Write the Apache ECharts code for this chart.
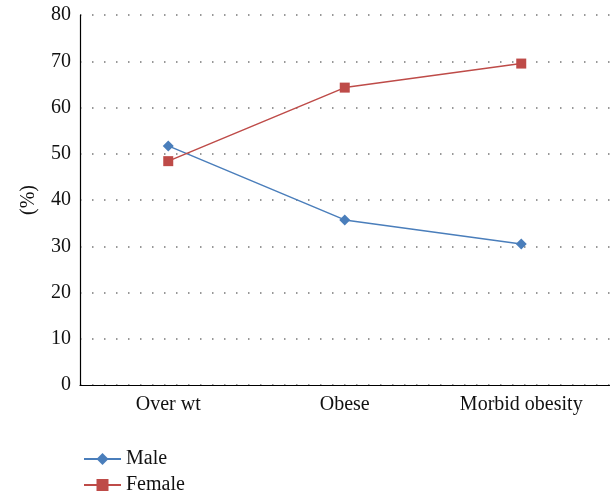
<!DOCTYPE html>
<html><head><meta charset="utf-8">
<script src="https://cdn.jsdelivr.net/npm/echarts@6/dist/echarts.min.js"></script>
<style>html,body{margin:0;padding:0;background:#fff}#c{width:613px;height:494px}</style>
</head><body><div id="c"></div>
<script>
const categories = ['Over wt', 'Obese', 'Morbid obesity'];
const maleValues = [51.7, 35.7, 30.5];
const femaleValues = [48.4, 64.3, 69.5];
const yTicks = [0, 10, 20, 30, 40, 50, 60, 70, 80];

const font = '"Liberation Serif", "DejaVu Serif", serif';
const legendText = { fontFamily: font, fontSize: 20, color: '#111' };
const chart = echarts.init(document.getElementById('c'));
chart.setOption({
  animation: false,
  backgroundColor: '#fff',
  textStyle: { fontFamily: font },
  grid: { left: 80, right: 3.5, top: 15, bottom: 109, containLabel: false },
  legend: [
    { orient: 'horizontal', left: 78, top: 444, itemWidth: 37, itemHeight: 15, itemGap: 10,
      textStyle: legendText, data: ['Male'] },
    { orient: 'horizontal', left: 78, top: 470, itemWidth: 37, itemHeight: 15, itemGap: 10,
      textStyle: legendText, data: ['Female'] }
  ],
  xAxis: {
    type: 'category', data: categories, boundaryGap: true,
    axisLine: { lineStyle: { color: '#000', width: 1.2 } },
    axisTick: { show: false },
    axisLabel: { fontFamily: font, fontSize: 20, color: '#111', margin: 10 }
  },
  yAxis: {
    type: 'value', min: yTicks[0], max: yTicks[yTicks.length - 1], interval: 10,
    name: '(%)', nameLocation: 'middle', nameGap: 41, nameRotate: 90,
    nameTextStyle: { fontFamily: font, fontSize: 20, color: '#111' },
    axisLine: { show: true, lineStyle: { color: '#000', width: 1.2 } },
    axisTick: { show: false },
    axisLabel: { fontFamily: font, fontSize: 20, color: '#111', margin: 9 },
    splitLine: { show: true, lineStyle: { color: '#777', type: [1.5, 10.5], width: 1.5 } }
  },
  series: [
    { name: 'Male', type: 'line', data: maleValues, symbol: 'diamond', symbolSize: 11,
      color: '#4A7EBB', lineStyle: { width: 1.5 } },
    { name: 'Female', type: 'line', data: femaleValues, symbol: 'rect', symbolSize: 10,
      color: '#BE4B48', lineStyle: { width: 1.5 } }
  ]
});
</script></body></html>
